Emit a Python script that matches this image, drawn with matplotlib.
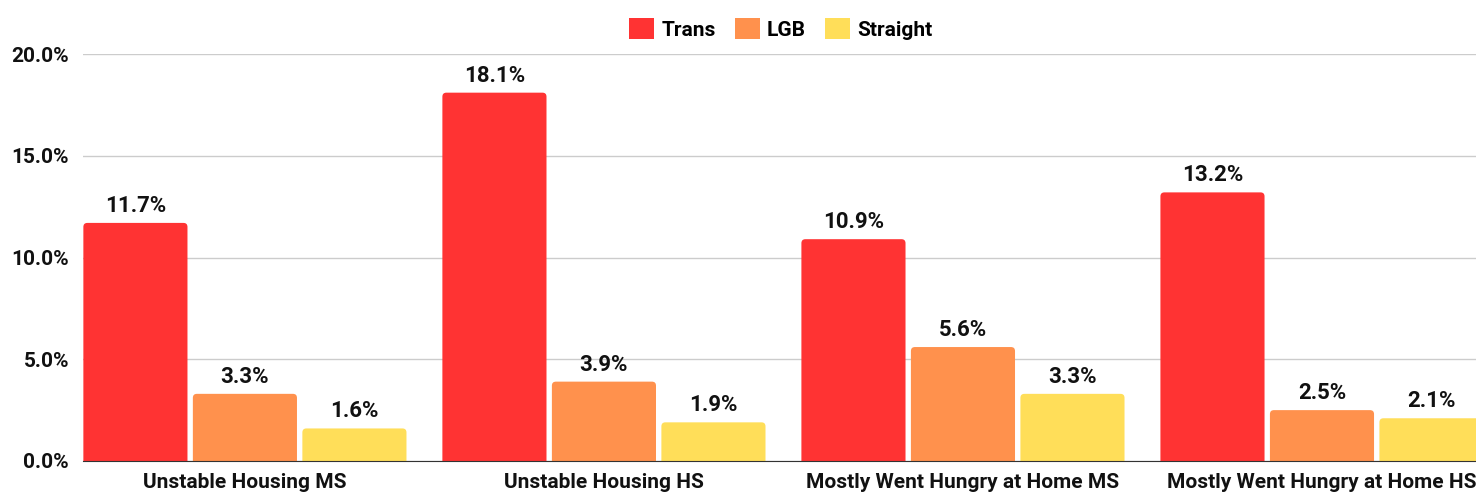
import numpy as np
import matplotlib.pyplot as plt
from matplotlib.patches import FancyBboxPatch

categories = ['Unstable Housing MS', 'Unstable Housing HS',
              'Mostly Went Hungry at Home MS', 'Mostly Went Hungry at Home HS']
trans = [11.7, 18.1, 10.9, 13.2]
lgb = [3.3, 3.9, 5.6, 2.5]
straight = [1.6, 1.9, 3.3, 2.1]
series = [('Trans', trans, '#ff3333'), ('LGB', lgb, '#ff914d'), ('Straight', straight, '#ffde59')]

plt.rcParams['font.family'] = ['Roboto', 'DejaVu Sans']
plt.rcParams['font.weight'] = 'bold'

fig = plt.figure(figsize=(14.76, 4.93), dpi=100)
ax = fig.add_axes([83 / 1476, 32 / 493, 1393 / 1476, 407 / 493])

x = np.arange(len(categories))
offset = 0.305
width = 0.29
px_x = 3.88 / 1393   # data units per pixel, x
px_y = 20 / 407      # data units per pixel, y
for k, (name, vals, color) in enumerate(series):
    pos = x + (k - 1) * offset
    # empty bar only for the legend handle
    ax.bar([0], [0], 0, color=color, label=name)
    for xp, v in zip(pos, vals):
        box = FancyBboxPatch((xp - width / 2, -0.5), width, v + 0.5,
                             boxstyle=f'round,pad=0,rounding_size={4 * px_x}',
                             mutation_aspect=px_y / px_x,
                             facecolor=color, edgecolor='none', zorder=3)
        ax.add_patch(box)
        ax.text(xp, v + 0.3, f'{v:.1f}%', ha='center', va='bottom',
                fontsize=16, fontweight='bold', color='#111111')

ax.set_xlim(-0.451, 3.429)
ax.set_ylim(0, 20)
ax.set_yticks([0, 5, 10, 15, 20])
ax.set_yticklabels([f'{t:.1f}%' for t in [0, 5, 10, 15, 20]])
ax.set_xticks(x)
ax.set_xticklabels(categories)
ax.tick_params(axis='both', length=0, labelsize=15, colors='#111111')
ax.tick_params(axis='y', pad=10)
ax.tick_params(axis='x', pad=9)
ax.grid(axis='y', color='#cccccc', linewidth=1, zorder=0)
for s in ['top', 'right', 'left']:
    ax.spines[s].set_visible(False)
ax.spines['bottom'].set_color('#333333')
ax.spines['bottom'].set_zorder(4)

ax.legend(loc='upper center', bbox_to_anchor=(0.501, 1.135), ncol=3, frameon=False,
          fontsize=15, handlelength=1.2, handleheight=1.2, columnspacing=0.9, handletextpad=0.35)

fig.savefig('out.png', dpi=100)
